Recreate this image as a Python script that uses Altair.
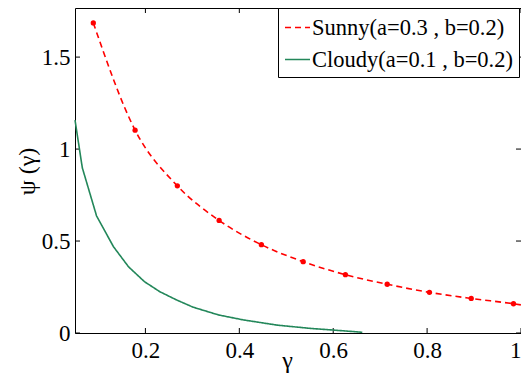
import altair as alt
import pandas as pd

sunny_label = "Sunny(a=0.3 , b=0.2)"
cloudy_label = "Cloudy(a=0.1 , b=0.2)"

# Sunny markers
sunny_x = [0.089, 0.178, 0.268, 0.357, 0.447, 0.536, 0.626, 0.715, 0.805, 0.894, 0.984]
sunny_y = [1.686, 1.103, 0.800, 0.612, 0.480, 0.388, 0.317, 0.265, 0.221, 0.188, 0.159]
# Sunny line continues to the right edge
sunny_tail_x = [1.0]
sunny_tail_y = [0.153]

cloudy_x = [0.05, 0.0656, 0.096, 0.132, 0.164, 0.198, 0.231, 0.267, 0.302, 0.356,
            0.409, 0.48, 0.551, 0.60, 0.662]
cloudy_y = [1.158, 0.898, 0.636, 0.469, 0.360, 0.279, 0.224, 0.179, 0.140, 0.098,
            0.071, 0.043, 0.025, 0.016, 0.004]

x_ticks = [0.2, 0.4, 0.6, 0.8, 1.0]
y_ticks = [0, 0.5, 1, 1.5]

W, H = 446, 325
FONT = "Liberation Serif"

sunny_df = pd.DataFrame({"x": sunny_x + sunny_tail_x, "y": sunny_y + sunny_tail_y, "series": sunny_label})
cloudy_df = pd.DataFrame({"x": cloudy_x, "y": cloudy_y, "series": cloudy_label})
pts_df = pd.DataFrame({"x": sunny_x, "y": sunny_y})
xt_df = pd.DataFrame({"x": x_ticks})
yt_df = pd.DataFrame({"y": y_ticks})

xs = alt.Scale(domain=[0.05, 1.0], nice=False, zero=False)
ys = alt.Scale(domain=[0, 1.767], nice=False, zero=False)

color_scale = alt.Scale(domain=[sunny_label, cloudy_label], range=["#ff0000", "#23875a"])
dash_scale = alt.Scale(domain=[sunny_label, cloudy_label], range=[[6, 4], [1, 0]])

legend = alt.Legend(
    title=None, orient="none", legendX=203, legendY=0,
    symbolType="stroke", symbolSize=625, symbolStrokeWidth=1.6,
    labelFont=FONT, labelFontSize=22.5, labelColor="black", labelOffset=1, labelLimit=0,
    strokeColor="black", fillColor="white", padding=6, rowPadding=7,
)

x_axis = alt.Axis(values=x_ticks, format="~g", title="γ", ticks=False, domain=False, grid=False,
                  labelFont=FONT, labelFontSize=23, labelColor="black", labelPadding=6,
                  titleFont=FONT, titleFontSize=24, titleFontWeight="normal", titleColor="black",
                  titleX=212, titleY=34, titleBaseline="alphabetic")
y_axis = alt.Axis(values=y_ticks, format="~g", title="ψ (γ)", ticks=False, domain=False, grid=False,
                  labelFont=FONT, labelFontSize=23, labelColor="black", labelPadding=5,
                  titleFont=FONT, titleFontSize=24, titleFontWeight="normal", titleColor="black",
                  titleX=-48, titleY=163, titleBaseline="middle", titleAlign="center")

X = alt.X("x:Q", scale=xs, axis=x_axis)
Y = alt.Y("y:Q", scale=ys, axis=y_axis)
C = alt.Color("series:N", scale=color_scale, legend=legend)
D = alt.StrokeDash("series:N", scale=dash_scale, legend=legend)

sunny_line = alt.Chart(sunny_df).mark_line(strokeWidth=1.6, interpolate="monotone").encode(
    x=X, y=Y, color=C, strokeDash=D)
cloudy_line = alt.Chart(cloudy_df).mark_line(strokeWidth=1.6).encode(
    x=X, y=Y, color=C, strokeDash=D)

points = alt.Chart(pts_df).mark_point(filled=True, size=28, color="#ff0000", opacity=1).encode(
    x=X, y=Y,
)

tick_len = 5
bx = alt.Chart(xt_df).mark_rule(color="black", strokeWidth=1).encode(
    x=X, y=alt.value(H), y2=alt.value(H - tick_len))
tx = alt.Chart(xt_df).mark_rule(color="black", strokeWidth=1).encode(
    x=X, y=alt.value(0), y2=alt.value(tick_len))
ly = alt.Chart(yt_df).mark_rule(color="black", strokeWidth=1).encode(
    y=Y, x=alt.value(0), x2=alt.value(tick_len))
ry = alt.Chart(yt_df).mark_rule(color="black", strokeWidth=1).encode(
    y=Y, x=alt.value(W), x2=alt.value(W - tick_len))

chart = alt.layer(bx, tx, ly, ry, sunny_line, cloudy_line, points).properties(
    width=W, height=H,
    autosize=alt.AutoSizeParams(type="none"),
    padding={"left": 67, "top": 0, "right": 0, "bottom": 41},
).configure(background="white").configure_view(stroke="black", strokeWidth=1)

chart.save("out.html", embed_options={"renderer": "svg", "actions": False})
